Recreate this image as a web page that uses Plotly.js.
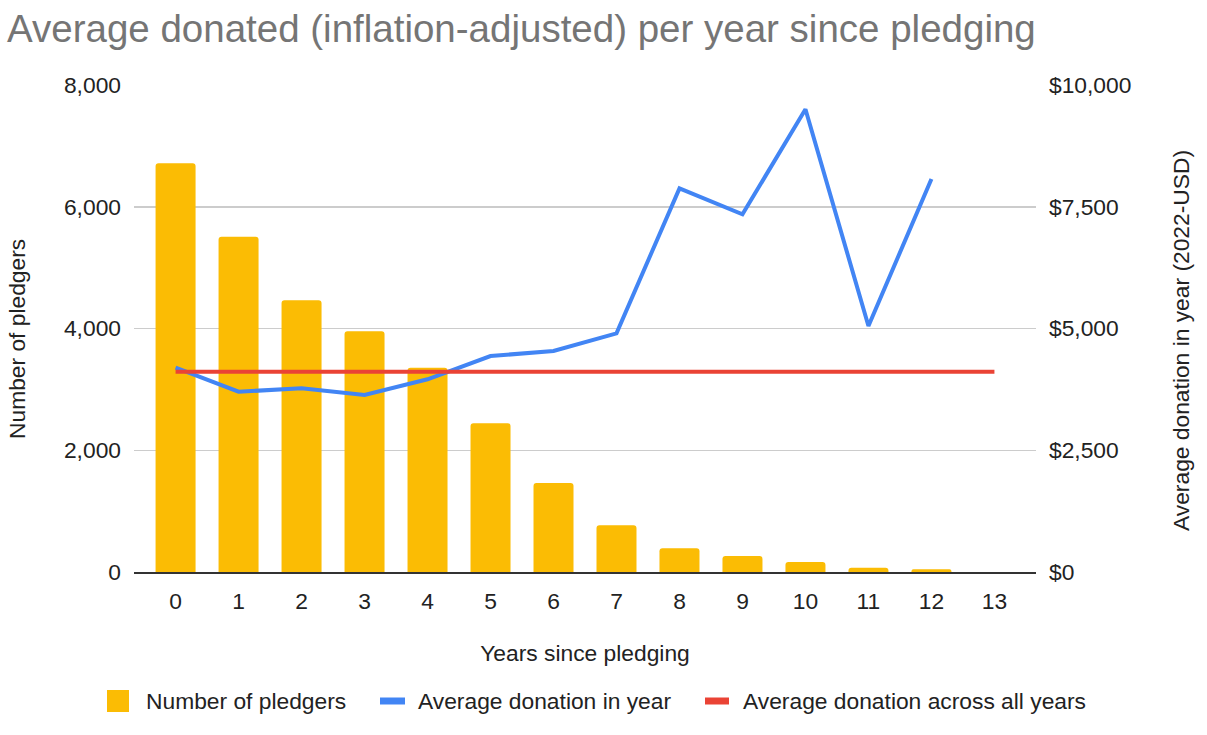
<!DOCTYPE html>
<html>
<head>
<meta charset="utf-8">
<script src="https://cdn.plot.ly/plotly-3.0.1.min.js"></script>
<style>
  html, body { margin: 0; padding: 0; background: #ffffff; }
  #chart { width: 1207px; height: 735px; }
</style>
</head>
<body>
<div id="chart"></div>
<script>
// ---- Data ----
const chartTitle = "Average donated (inflation-adjusted) per year since pledging";
const xTitle = "Years since pledging";
const yLeftTitle = "Number of pledgers";
const yRightTitle = "Average donation in year (2022-USD)";

const years = [0, 1, 2, 3, 4, 5, 6, 7, 8, 9, 10, 11, 12, 13];
const pledgers = [6714, 5508, 4463, 3954, 3356, 2442, 1462, 767, 389, 263, 164, 71, 44, 0];
const donationYears = [0, 1, 2, 3, 4, 5, 6, 7, 8, 9, 10, 11, 12];
const avgDonation = [4195, 3702, 3772, 3634, 3957, 4435, 4538, 4901, 7878, 7345, 9501, 5051, 8070];
const avgAllYears = [4113, 4113, 4113, 4113, 4113, 4113, 4113, 4113, 4113, 4113, 4113, 4113, 4113, 4113];

const seriesNames = ["Number of pledgers", "Average donation in year", "Average donation across all years"];
const seriesColors = ["#fbbc04", "#4285f4", "#ea4335"];

const leftTickVals = [0, 2000, 4000, 6000, 8000];
const leftTickText = ["0", "2,000", "4,000", "6,000", "8,000"];
const rightTickVals = [0, 2500, 5000, 7500, 10000];
const rightTickText = ["$0", "$2,500", "$5,000", "$7,500", "$10,000"];

// ---- Styling / geometry ----
const FONT = "Liberation Sans, Arial, Helvetica, sans-serif";
const TXT = 22.8;
const W = 1207, H = 735;
const M = { l: 134, r: 171, t: 85, b: 163 };
const PW = W - M.l - M.r, PH = H - M.t - M.b;
const px = (x) => (x - M.l) / PW;          // page pixel -> paper x
const py = (y) => (H - M.b - y) / PH;      // page pixel -> paper y

const traces = [
  {
    type: "bar",
    name: seriesNames[0],
    x: years,
    y: pledgers,
    width: 0.635,
    marker: { color: seriesColors[0], cornerradius: 3 },
    yaxis: "y"
  },
  {
    type: "scatter",
    mode: "lines",
    name: seriesNames[1],
    x: donationYears,
    y: avgDonation,
    line: { color: seriesColors[1], width: 4 },
    yaxis: "y2"
  },
  {
    type: "scatter",
    mode: "lines",
    name: seriesNames[2],
    x: years,
    y: avgAllYears,
    line: { color: seriesColors[2], width: 4 },
    yaxis: "y2"
  }
];

// Legend drawn as in the reference (large square / thick dashes, wide spacing)
const legendItems = [
  { sym: "rect", x0: 107, x1: 129, text: 146 },
  { sym: "line", x0: 380, x1: 405, text: 418 },
  { sym: "line", x0: 705, x1: 729, text: 743 }
];
const legendY = 701;

const shapes = legendItems.map((it, i) => it.sym === "rect"
  ? { type: "rect", xref: "paper", yref: "paper",
      x0: px(it.x0), x1: px(it.x1), y0: py(legendY - 11), y1: py(legendY + 11),
      fillcolor: seriesColors[i], line: { width: 0 } }
  : { type: "rect", xref: "paper", yref: "paper",
      x0: px(it.x0), x1: px(it.x1), y0: py(legendY - 3.5), y1: py(legendY + 3.5),
      fillcolor: seriesColors[i], line: { width: 0 } });

const annotations = legendItems.map((it, i) => ({
  xref: "paper", yref: "paper",
  x: px(it.text - 2), y: py(legendY),
  xanchor: "left", yanchor: "middle",
  text: seriesNames[i], showarrow: false,
  font: { family: FONT, size: TXT, color: "#222222" }
}));

// Vertical axis titles (placed as in the reference)
annotations.push({
  xref: "paper", yref: "paper", x: px(17), y: py(339),
  xanchor: "center", yanchor: "middle", textangle: -90,
  text: yLeftTitle, showarrow: false,
  font: { family: FONT, size: TXT, color: "#222222" }
});
annotations.push({
  xref: "paper", yref: "paper", x: px(1181), y: py(341),
  xanchor: "center", yanchor: "middle", textangle: -90,
  text: yRightTitle, showarrow: false,
  font: { family: FONT, size: TXT, color: "#222222" }
});

const layout = {
  width: W,
  height: H,
  margin: M,
  paper_bgcolor: "#ffffff",
  plot_bgcolor: "#ffffff",
  font: { family: FONT, size: TXT, color: "#222222" },
  showlegend: false,
  title: {
    text: chartTitle,
    font: { family: FONT, size: 38.5, color: "#757575" },
    xref: "container", x: 7 / W, xanchor: "left",
    yref: "container", y: 1 - 29 / H, yanchor: "middle"
  },
  xaxis: {
    range: [-0.66, 13.66],
    tickmode: "array",
    tickvals: years,
    ticktext: years.map(String),
    showgrid: false,
    zeroline: false,
    showline: true,
    linecolor: "#333333",
    linewidth: 1.5,
    ticks: "",
    ticklabelstandoff: 8,
    tickfont: { family: FONT, size: TXT, color: "#222222" },
    title: { text: xTitle, font: { family: FONT, size: TXT, color: "#222222" }, standoff: 32 },
    fixedrange: true
  },
  yaxis: {
    range: [0, 8000],
    tickmode: "array",
    tickvals: leftTickVals,
    ticktext: leftTickText,
    showgrid: true,
    gridcolor: "#cccccc",
    gridwidth: 1.5,
    zeroline: false,
    showline: false,
    ticks: "",
    ticklabelstandoff: 12,
    tickfont: { family: FONT, size: TXT, color: "#222222" },
    fixedrange: true
  },
  yaxis2: {
    overlaying: "y",
    side: "right",
    range: [0, 10000],
    tickmode: "array",
    tickvals: rightTickVals,
    ticktext: rightTickText,
    showgrid: false,
    zeroline: false,
    showline: false,
    ticks: "",
    ticklabelstandoff: 12,
    tickfont: { family: FONT, size: TXT, color: "#222222" },
    fixedrange: true
  },
  shapes: shapes,
  annotations: annotations,
  bargap: 0.3
};

Plotly.newPlot("chart", traces, layout, { displayModeBar: false, staticPlot: true, responsive: false });
</script>
</body>
</html>
